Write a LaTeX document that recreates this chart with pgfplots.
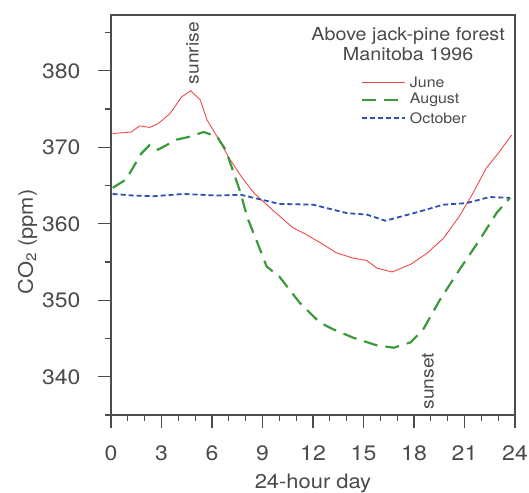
\documentclass[border=0pt]{standalone}
\usepackage{pgfplots}
\pgfplotsset{compat=1.18}
\usepackage{fontspec}
\setmainfont{TeX Gyre Heros}[FakeStretch=1.1]
\definecolor{txt}{HTML}{4A4A4A}
\definecolor{jun}{HTML}{F04848}
\definecolor{aug}{HTML}{3A9A3A}
\definecolor{oct}{HTML}{2F4FB0}
\begin{document}
\begin{tikzpicture}
\useasboundingbox (-111bp,-78bp) rectangle (418bp,415bp);
\begin{axis}[
  at={(0,0)}, anchor=south west,
  scale only axis, width=404bp, height=400bp,
  xmin=0, xmax=24, ymin=335, ymax=387.3,
  xtick={0,3,...,24}, minor x tick num=2,
  ytick={340,350,...,380}, minor ytick={335,345,...,385},
  tick align=outside,
  xtick pos=bottom, ytick pos=left,
  major tick length=13bp, minor tick length=6bp,
  axis line style={draw=black!70, line width=1.4pt},
  major tick style={draw=black!70, line width=1.2pt},
  minor tick style={draw=black!70, line width=1.2pt},
  tick label style={font=\fontsize{21}{25}\selectfont, text=txt},
  /pgf/number format/assume math mode=true,
  xticklabel style={anchor=base, yshift=-32bp},
  yticklabel style={anchor=east, xshift=-14bp},
  clip=false,
]
\addplot[jun, line width=0.9pt] coordinates {
(0.1,371.8) (1.2,372.0) (1.7,372.8) (2.3,372.6) (2.8,373.1) (3.5,374.4) (4.2,376.6) (4.73,377.4) (5.3,376.2) (5.7,373.6) (6.3,371.4) (7.07,368.4) (7.8,366.0) (8.5,364.0) (9.6,361.8) (10.8,359.5) (11.6,358.6) (12.6,357.3) (13.4,356.2) (14.4,355.5) (15.2,355.2) (15.8,354.2) (16.7,353.7) (17.8,354.7) (18.8,356.2) (19.75,358.1) (20.7,361.0) (21.5,364.0) (22.3,367.3) (23.0,369.2) (23.8,371.6)
};
\addplot[aug, line width=2.2pt, dash pattern=on 14bp off 8bp] coordinates {
(0.1,364.7) (0.9,365.8) (1.8,369.2) (2.3,370.3) (2.8,369.7) (3.9,371.0) (4.7,371.4) (5.5,372.0) (6.3,371.4) (6.8,369.7) (7.3,366.6) (7.7,364.0) (8.1,360.8) (8.7,357.5) (9.25,354.4) (10.0,353.1) (11.2,349.7) (12.4,347.1) (13.2,346.2) (14.4,345.1) (15.8,344.1) (16.8,343.8) (17.8,344.5) (18.55,346.2) (19.55,350.1) (20.7,354.0) (21.9,357.9) (22.9,361.4) (23.7,363.4)
};
\addplot[oct, line width=1.8pt, dash pattern=on 5bp off 3bp] coordinates {
(0.1,363.9) (1.3,363.7) (2.5,363.6) (4.3,363.9) (6.3,363.7) (7.7,363.8) (8.85,363.2) (10.0,362.6) (12.0,362.5) (14.0,361.4) (15.2,361.2) (16.3,360.4) (18.0,361.4) (19.75,362.5) (21.1,362.7) (22.5,363.5) (23.7,363.4)
};
\node[rotate=90, font=\fontsize{17.5}{21}\selectfont, text=txt] at (axis cs:4.85,382.3) {sunrise};
\node[rotate=90, font=\fontsize{17.5}{21}\selectfont, text=txt] at (axis cs:18.83,339.4) {sunset};
\node[align=center, font=\fontsize{18}{21}\selectfont, text=txt] at (axis cs:17.65,383.5) {Above jack-pine forest\\Manitoba 1996};
% legend
\draw[jun, line width=0.9pt] (axis cs:14.9,378.5) -- (axis cs:17.47,378.5);
\node[anchor=west, font=\fontsize{14.5}{17}\selectfont, text=txt, inner sep=0pt] at (axis cs:17.75,378.5) {June};
\draw[aug, line width=2.2pt, dash pattern=on 14bp off 8bp] (axis cs:14.9,376.2) -- (axis cs:17.47,376.2);
\node[anchor=west, font=\fontsize{14.5}{17}\selectfont, text=txt, inner sep=0pt] at (axis cs:17.75,376.2) {August};
\draw[oct, line width=1.8pt, dash pattern=on 5bp off 3bp] (axis cs:14.9,373.8) -- (axis cs:17.47,373.8);
\node[anchor=west, font=\fontsize{14.5}{17}\selectfont, text=txt, inner sep=0pt] at (axis cs:17.75,373.8) {October};
\end{axis}
\draw[black!70, line width=1.4pt] (0,0) -- (404bp,0) -- (404bp,400bp) -- (0,400bp) -- cycle;
\node[anchor=base, font=\fontsize{20}{24}\selectfont, text=txt, inner sep=0pt] at (202bp,-73bp) {24-hour day};
\node[anchor=base, rotate=90, font=\fontsize{20}{24}\selectfont, text=txt, inner sep=0pt] at (-78bp,173bp) {CO\textsubscript{2} (ppm)};
\end{tikzpicture}
\end{document}
